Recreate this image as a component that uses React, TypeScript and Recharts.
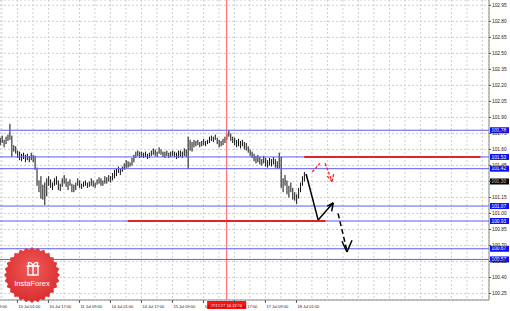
import React from 'react';
import { ComposedChart, Bar, XAxis, YAxis, CartesianGrid, ReferenceLine } from 'recharts';

// hourly bars, index 0 = 10 Jul 01:00
const firstBar = -9;
const highs = [
  101.71, 101.73, 101.69, 101.72, 101.74, 101.84, 101.73, 101.64, 101.63, 101.59,
  101.58, 101.56, 101.57, 101.55, 101.56, 101.54, 101.57, 101.55, 101.54, 101.43,
  101.31, 101.35, 101.27, 101.29, 101.33, 101.35, 101.32, 101.29, 101.33, 101.35,
  101.31, 101.28, 101.33, 101.36, 101.33, 101.30, 101.32, 101.28, 101.27, 101.29,
  101.33, 101.31, 101.28, 101.30, 101.31, 101.29, 101.30, 101.33, 101.31, 101.29,
  101.32, 101.34, 101.33, 101.31, 101.35, 101.34, 101.36, 101.35, 101.38, 101.41,
  101.42, 101.44, 101.42, 101.44, 101.47, 101.50, 101.49, 101.48, 101.52, 101.55,
  101.58, 101.59, 101.58, 101.58, 101.57, 101.58, 101.56, 101.57, 101.59, 101.61,
  101.60, 101.58, 101.62, 101.60, 101.58, 101.58, 101.59, 101.57, 101.58, 101.59,
  101.58, 101.57, 101.59, 101.59, 101.58, 101.61, 101.60, 101.72, 101.69, 101.67,
  101.69, 101.68, 101.69, 101.67, 101.68, 101.70, 101.68, 101.69, 101.72, 101.73,
  101.72, 101.74, 101.71, 101.69, 101.68, 101.70, 101.72, 101.75, 101.78, 101.75,
  101.72, 101.71, 101.69, 101.70, 101.68, 101.69, 101.67, 101.66, 101.63, 101.60,
  101.58, 101.56, 101.54, 101.55, 101.53, 101.51, 101.54, 101.52, 101.50, 101.52,
  101.51, 101.53, 101.51, 101.49, 101.57, 101.53, 101.33, 101.36, 101.31, 101.26,
  101.29, 101.24, 101.20, 101.18, 101.24, 101.29, 101.35, 101.39,
];
const lows = [
  101.64, 101.66, 101.62, 101.65, 101.68, 101.69, 101.53, 101.58, 101.56, 101.52,
  101.50, 101.49, 101.51, 101.48, 101.50, 101.48, 101.50, 101.48, 101.41, 101.26,
  101.20, 101.14, 101.13, 101.08, 101.16, 101.26, 101.24, 101.22, 101.26, 101.27,
  101.22, 101.21, 101.25, 101.28, 101.25, 101.22, 101.26, 101.20, 101.20, 101.22,
  101.26, 101.24, 101.23, 101.25, 101.26, 101.24, 101.25, 101.26, 101.25, 101.24,
  101.27, 101.28, 101.26, 101.26, 101.28, 101.28, 101.30, 101.29, 101.31, 101.33,
  101.35, 101.38, 101.36, 101.39, 101.41, 101.42, 101.43, 101.44, 101.45, 101.48,
  101.52, 101.54, 101.52, 101.53, 101.52, 101.53, 101.51, 101.52, 101.54, 101.55,
  101.54, 101.53, 101.56, 101.55, 101.53, 101.52, 101.54, 101.52, 101.53, 101.54,
  101.53, 101.51, 101.52, 101.53, 101.52, 101.54, 101.53, 101.42, 101.59, 101.58,
  101.62, 101.63, 101.64, 101.62, 101.63, 101.64, 101.63, 101.65, 101.66, 101.68,
  101.67, 101.69, 101.65, 101.62, 101.63, 101.64, 101.66, 101.69, 101.72, 101.68,
  101.66, 101.64, 101.62, 101.63, 101.61, 101.63, 101.60, 101.59, 101.57, 101.54,
  101.52, 101.49, 101.47, 101.48, 101.46, 101.45, 101.47, 101.44, 101.43, 101.45,
  101.44, 101.46, 101.43, 101.42, 101.42, 101.24, 101.20, 101.26, 101.18, 101.15,
  101.20, 101.13, 101.12, 101.09, 101.14, 101.20, 101.26, 101.30,
];

const xGrid = [
  -16, -8, 0, 8, 16, 24, 32, 40, 48, 56, 64, 72, 80, 88, 96, 104, 112,
  120, 128, 136, 144, 152, 160, 168, 176, 184, 192, 200, 208, 216, 224, 232, 240,
];
const xLabelPos = [-16, 0, 16, 32, 48, 64, 80, 96, 112, 128, 144];
const xLabelText = [
  '9 Jul 09:00', '10 Jul 01:00', '10 Jul 17:00', '11 Jul 09:00', '14 Jul 01:00', '14 Jul 17:00',
  '15 Jul 09:00', '16 Jul 01:00', '16 Jul 17:00', '17 Jul 09:00', '18 Jul 01:00',
];
const yTicks = [
  100.25, 100.4, 100.55, 100.7, 100.85, 101.0, 101.15, 101.3, 101.45, 101.6,
  101.75, 101.9, 102.05, 102.2, 102.35, 102.5, 102.65, 102.8, 102.95,
];
const levels = [101.78, 101.53, 101.42, 101.07, 100.93, 100.67, 100.57];
const lastPrice = 101.3;
const cursorBar = 108;
const cursorText = '2014.07.16 13:00';

// drawn forecast: [x1, y1, x2, y2]
const redLevels = [
  [57, 100.93, 159, 100.93],
  [148, 101.53, 239, 101.53],
];
const blackArrow = [
  [149, 101.37, 155.2, 100.94],
  [155.2, 100.94, 163, 101.1],
  [163, 101.1, 159.9, 101.07],
  [163, 101.1, 162.2, 101.02],
];
const blackDashed = [
  [165.5, 101.0, 170.1, 100.65],
];
const blackDashedHead = [
  [167.5, 100.74, 170.1, 100.64],
  [172.7, 100.75, 170.1, 100.64],
];
const redDashed = [
  [152.1, 101.39, 156.2, 101.47],
  [158.8, 101.47, 162.4, 101.3],
  [159.9, 101.35, 162.4, 101.3],
  [162.4, 101.3, 163.3, 101.38],
];

const bars = highs.map((h, k) => ({ i: firstBar + k, range: [lows[k], h] }));

const FONT = '"Liberation Sans", Arial, sans-serif';

const BarShape = (p: any) => (
  <rect x={p.x + p.width / 2 - 0.5} y={p.y} width={1} height={Math.max(p.height, 1)} fill="#111" />
);

const XTick = ({ x, y, payload }: any) => {
  const k = xLabelPos.indexOf(payload.value);
  if (k < 0) return null;
  return (
    <g>
      <line x1={x} y1={y} x2={x} y2={y + 3} stroke="#555" />
      <text x={x + 1} y={y + 7.5} fontSize={4} fontFamily={FONT} fill="#222">{xLabelText[k]}</text>
    </g>
  );
};

const YTick = ({ x, y, payload }: any) => (
  <g>
    <line x1={x} y1={y} x2={x + 2} y2={y} stroke="#555" />
    <text x={x + 3} y={y + 1.7} fontSize={4.8} fontFamily={FONT} fill="#222">{payload.value.toFixed(2)}</text>
  </g>
);

const LevelTag = ({ viewBox, text, fill }: any) => {
  const x = viewBox.x + viewBox.width + 1;
  const y = viewBox.y;
  return (
    <g>
      <rect x={x} y={y - 3} width={19} height={6} fill={fill} />
      <text x={x + 1.5} y={y + 1.7} fontSize={4.8} fontFamily={FONT} fill="#fff">{text}</text>
    </g>
  );
};

const CursorTag = ({ viewBox }: any) => {
  const x = viewBox.x;
  const y = viewBox.y + viewBox.height + 1;
  return (
    <g>
      <rect x={x - 19.5} y={y} width={39} height={8} fill="#ff1010" />
      <text x={x} y={y + 5.8} fontSize={4} fontFamily={FONT} fill="#fff" textAnchor="middle">{cursorText}</text>
    </g>
  );
};

const seg = (s: number[]) => [{ x: s[0], y: s[1] }, { x: s[2], y: s[3] }];

function Badge() {
  const pts: string[] = [];
  for (let k = 0; k < 56; k++) {
    const a = (k / 56) * Math.PI * 2;
    const r = k % 2 === 0 ? 28 : 25.5;
    pts.push(`${28 + r * Math.cos(a)},${28 + r * Math.sin(a)}`);
  }
  return (
    <svg width={56} height={56} style={{ position: 'absolute', left: 4, top: 247 }}>
      <defs>
        <radialGradient id="bg" cx="50%" cy="40%" r="60%">
          <stop offset="0%" stopColor="#f25a5a" />
          <stop offset="100%" stopColor="#d92c2c" />
        </radialGradient>
      </defs>
      <polygon points={pts.join(' ')} fill="url(#bg)" />
      <g stroke="#fff" strokeWidth={1.4} fill="none">
        <rect x={24} y={19} width={10} height={9} />
        <line x1={29} y1={19} x2={29} y2={28} />
        <line x1={22.5} y1={19} x2={35.5} y2={19} />
        <path d="M29 18 C26 14 23 15 25 18 M29 18 C32 14 35 15 33 18" />
      </g>
      <text x={28} y={39} fontSize={7.5} fontFamily={FONT} fill="#fff" textAnchor="middle">InstaForex</text>
    </svg>
  );
}

export default function App() {
  return (
    <div style={{ position: 'absolute', left: 0, top: 0, width: 510, height: 311, background: '#fff' }}>
      <ComposedChart width={510} height={311} data={bars} margin={{ top: 0, right: 0, bottom: 0, left: 0 }}>
        <CartesianGrid stroke="#cfcfcf" strokeDasharray="2 2" />
        <XAxis
          dataKey="i" type="number" domain={[-9, 243.4]} ticks={xGrid} interval={0}
          allowDataOverflow height={11} tickSize={0} tickMargin={0}
          axisLine={{ stroke: '#8a8a8a' }} tick={<XTick />}
        />
        <YAxis
          orientation="right" type="number" domain={[100.19, 103.0]} ticks={yTicks} interval={0}
          allowDataOverflow width={21} tickSize={0} tickMargin={0}
          axisLine={{ stroke: '#8a8a8a' }} tick={<YTick />}
        />
        <ReferenceLine x={cursorBar} stroke="#ff5a5a" label={<CursorTag />} />
        {levels.map((v) => (
          <ReferenceLine key={v} y={v} stroke="#5c5cf2" label={<LevelTag text={v.toFixed(2)} fill="#1010f0" />} />
        ))}
        <ReferenceLine y={lastPrice} stroke="none" label={<LevelTag text={lastPrice.toFixed(2)} fill="#000" />} />
        <Bar dataKey="range" shape={<BarShape />} isAnimationActive={false} />
        {redLevels.map((s, k) => (
          <ReferenceLine key={'r' + k} segment={seg(s)} stroke="#e0242a" strokeWidth={2} />
        ))}
        {blackArrow.map((s, k) => (
          <ReferenceLine key={'b' + k} segment={seg(s)} stroke="#000" strokeWidth={1.5} />
        ))}
        {blackDashed.map((s, k) => (
          <ReferenceLine key={'d' + k} segment={seg(s)} stroke="#000" strokeWidth={1.5} strokeDasharray="5 3" />
        ))}
        {blackDashedHead.map((s, k) => (
          <ReferenceLine key={'h' + k} segment={seg(s)} stroke="#000" strokeWidth={1.5} />
        ))}
        {redDashed.map((s, k) => (
          <ReferenceLine key={'q' + k} segment={seg(s)} stroke="#ff2020" strokeWidth={1.3} strokeDasharray="3 1.5" />
        ))}
      </ComposedChart>
      <Badge />
    </div>
  );
}
